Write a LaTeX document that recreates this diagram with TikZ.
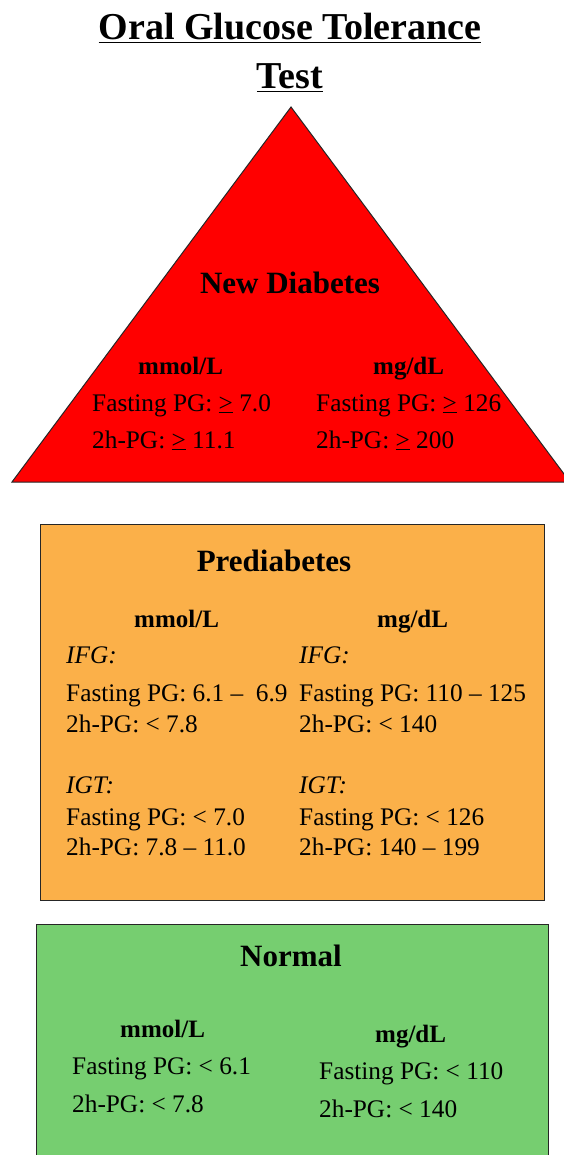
\documentclass[tikz,border=0pt]{standalone}
\usepackage{fontspec}
\setmainfont{Liberation Serif}
\definecolor{dred}{RGB}{255,0,0}
\definecolor{porange}{RGB}{251,176,73}
\definecolor{ngreen}{RGB}{118,206,112}
\begin{document}
\begin{tikzpicture}[x=1pt,y=-1pt,
  txt/.style={anchor=base west, inner sep=0pt, font=\fontsize{25.3}{30}\selectfont},
  unit/.style={anchor=base west, inner sep=0pt, font=\fontsize{25}{30}\selectfont\bfseries},
  head/.style={anchor=base, inner sep=0pt, font=\fontsize{31}{37}\selectfont\bfseries},
  ttl/.style={anchor=base, inner sep=0pt, font=\fontsize{38}{46}\selectfont\bfseries},
  shapeline/.style={draw=black!85, line width=1pt}]
\useasboundingbox (0,0) rectangle (563,1155);
% title
\node[ttl] (t1) at (290,40) {\underline{Oral Glucose Tolerance}};
\node[ttl] (t2) at (290,89) {\underline{Test}};
% triangle
\filldraw[shapeline, fill=dred] (12,482) -- (291,107) -- (570,482) -- cycle;
\node[head] (nd) at (290,294) {New Diabetes};
\node[unit] (nd1) at (138,374) {mmol/L};
\node[unit] (nd2) at (373,374) {mg/dL};
\node[txt] (nd3) at (92,411) {Fasting PG: \underline{>} 7.0};
\node[txt] (nd4) at (92,448) {2h-PG: \underline{>} 11.1};
\node[txt] (nd5) at (316,411) {Fasting PG: \underline{>} 126};
\node[txt] (nd6) at (316,448) {2h-PG: \underline{>} 200};
% prediabetes
\filldraw[shapeline, fill=porange] (40,524) rectangle (544,900);
\node[head] (pd) at (274,571) {Prediabetes};
\node[unit] (pd1) at (134,627) {mmol/L};
\node[unit] (pd2) at (377,627) {mg/dL};
\node[txt] (pd3) at (66,663) {\itshape IFG:};
\node[txt] (pd4) at (299,663) {\itshape IFG:};
\node[txt] (pd5) at (66,701) {Fasting PG: 6.1 –\ \ 6.9};
\node[txt] (pd6) at (299,701) {Fasting PG: 110 – 125};
\node[txt] (pd7) at (66,732) {2h-PG: < 7.8};
\node[txt] (pd8) at (299,732) {2h-PG: < 140};
\node[txt] (pd9) at (66,793) {\itshape IGT:};
\node[txt] (pd10) at (299,793) {\itshape IGT:};
\node[txt] (pd11) at (66,825) {Fasting PG: < 7.0};
\node[txt] (pd12) at (299,825) {Fasting PG: < 126};
\node[txt] (pd13) at (66,855) {2h-PG: 7.8 – 11.0};
\node[txt] (pd14) at (299,855) {2h-PG: 140 – 199};
% normal
\filldraw[shapeline, fill=ngreen] (36,924) rectangle (548,1175);
\node[head] (nm) at (291,966) {Normal};
\node[unit] (nm1) at (120,1037) {mmol/L};
\node[unit] (nm2) at (375,1042) {mg/dL};
\node[txt] (nm3) at (72,1074) {Fasting PG: < 6.1};
\node[txt] (nm4) at (72,1112) {2h-PG: < 7.8};
\node[txt] (nm5) at (319,1079) {Fasting PG: < 110};
\node[txt] (nm6) at (319,1117) {2h-PG: < 140};
\end{tikzpicture}
\end{document}
